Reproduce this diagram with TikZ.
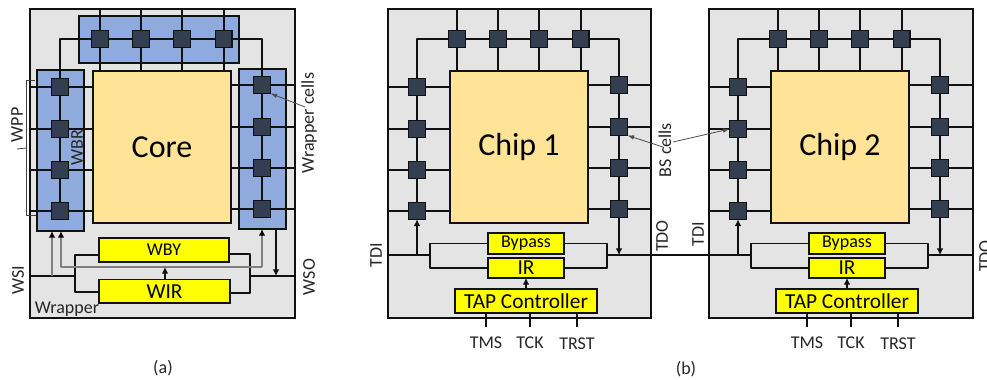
\documentclass[tikz,border=0pt]{standalone}
\usepackage{fontspec}
\setmainfont{Carlito}
\usetikzlibrary{arrows.meta}
\definecolor{wgray}{HTML}{E4E4E4}
\definecolor{wblue}{HTML}{8FAADC}
\definecolor{wcore}{HTML}{FFE498}
\definecolor{wcell}{HTML}{333F50}
\definecolor{wyel}{HTML}{FFFF00}
\definecolor{wline}{HTML}{111111}
\tikzset{
  x=0.75pt,y=-0.75pt,
  base/.style={draw=wline,line width=1.2pt,inner sep=0pt,outer sep=0pt},
  outerbox/.style={base,fill=wgray},
  panel/.style={base,fill=wblue},
  corebox/.style={base,fill=wcore,font=\fontsize{24}{24}\selectfont},
  yelbox/.style={base,fill=wyel},
  cellbox/.style={base,fill=wcell,minimum size=12.6pt},
  wire/.style={draw=wline,line width=1.2pt,line join=round},
  graywire/.style={draw=black!50,line width=1.2pt,line join=round,-{Latex[length=5pt,width=5pt,black]}},
  sig/.style={draw=wline,line width=0.8pt,-{Latex[length=5pt,width=5pt]}},
  callout/.style={draw=black!70,line width=0.6pt,-{Latex[length=5pt,width=3.5pt]}},
  lab/.style={inner sep=0pt,outer sep=0pt,text=black!85,font=\fontsize{13.5}{13.5}\selectfont},
  vlab/.style={lab,rotate=90},
}
% name, style, x1, y1, x2, y2, text
\newcommand\bx[7]{\node[#2,minimum width={((#5)-(#3))*0.75pt},minimum height={((#6)-(#4))*0.75pt}] (#1) at ({((#3)+(#5))/2},{((#4)+(#6))/2}) {#7};}
% prefix, outer box name, x shift, core label
\newcommand\chipcells[4]{%
  \bx{#1core}{corebox}{93+#3}{71}{231+#3}{223}{\raisebox{-3pt}{#4}}
  \foreach \n/\cx in {1/100,2/141,3/182,4/223.8}{\node[cellbox] (#1t\n) at (\cx+#3,39) {};}
  \foreach \n/\cy in {1/87,2/129,3/170,4/211}{\node[cellbox] (#1l\n) at (60+#3,\cy) {};}
  \foreach \n/\cy in {1/85,2/127,3/168,4/209}{\node[cellbox] (#1r\n) at (262+#3,\cy) {};}
  \foreach \n in {1,2,3,4}{
    \draw[wire] (#1t\n.north) -- (#1t\n.north |- #2.north);
    \draw[wire] (#1t\n.south) -- (#1t\n.south |- #1core.north);
    \draw[wire] (#1l\n.west) -- (#1l\n.west -| #2.west);
    \draw[wire] (#1l\n.east) -- (#1l\n.east -| #1core.west);
    \draw[wire] (#1r\n.east) -- (#1r\n.east -| #2.east);
    \draw[wire] (#1r\n.west) -- (#1r\n.west -| #1core.east);
  }
  \draw[wire] (#1t1) -- (#1t2);
  \draw[wire] (#1t2) -- (#1t3);
  \draw[wire] (#1t3) -- (#1t4);
  \draw[wire] (#1l1.north) |- (#1t1.west);
  \draw[wire] (#1t4.east) -| (#1r1.north);
  \draw[wire] (#1l1) -- (#1l2);
  \draw[wire] (#1l2) -- (#1l3);
  \draw[wire] (#1l3) -- (#1l4);
  \draw[wire] (#1r1) -- (#1r2);
  \draw[wire] (#1r2) -- (#1r3);
  \draw[wire] (#1r3) -- (#1r4);
}
% prefix, x shift
\newcommand\taplogic[2]{%
  \bx{#1byp}{yelbox}{488+#2}{233}{564+#2}{254}{\fontsize{13.5}{13.5}\selectfont Bypass}
  \bx{#1ir}{yelbox}{488+#2}{258}{564+#2}{278}{\fontsize{16}{16}\selectfont IR}
  \bx{#1tap}{yelbox}{455+#2}{289}{597+#2}{313}{\fontsize{16}{16}\selectfont TAP Controller}
  \coordinate (#1jl) at (430+#2,255);
  \coordinate (#1jr) at (607+#2,255);
  \draw[wire] (#1byp.west) -| (#1jl) |- (#1ir.west);
  \draw[wire] (#1byp.east) -| (#1jr) |- (#1ir.east);
  \draw[sig] (#1tap.north -| #1ir.south) -- (#1ir.south);
  \node[lab] (#1tms) at (486+#2,343) {TMS};
  \node[lab] (#1tck) at (530+#2,343) {TCK};
  \node[lab] (#1trst) at (577+#2,344) {TRST};
  \coordinate (#1tmsi) at (486+#2,327);
  \coordinate (#1tcki) at (530+#2,327);
  \coordinate (#1trsti) at (577+#2,327);
  \draw[wire] (#1tmsi) -- (#1tmsi |- #1tap.south);
  \draw[wire] (#1tcki) -- (#1tcki |- #1tap.south);
  \draw[wire] (#1trsti) -- (#1trsti |- #1tap.south);
}
\begin{document}
\begin{tikzpicture}
\useasboundingbox (0,0) rectangle (987,379);
% ---------- (a) ----------
\bx{wrap}{outerbox}{30}{9}{295}{318}{}
\bx{ptop}{panel}{79}{16}{239}{63}{}
\bx{pleft}{panel}{37}{70}{84}{231}{}
\bx{pright}{panel}{239}{69}{286}{229}{}
\chipcells{a}{wrap}{0}{Core}
\bx{wby}{yelbox}{99}{238}{229}{262}{\fontsize{13.5}{13.5}\selectfont WBY}
\bx{wir}{yelbox}{99}{279.5}{230}{303}{\fontsize{16}{16}\selectfont WIR}
\coordinate (wsiin) at (30,276);
\coordinate (wsoout) at (295,276);
\coordinate (ajl) at (75,276);
\coordinate (ajr) at (250,276);
\coordinate (wbyl) at (99,255);
\coordinate (wbyr) at (229,254);
\coordinate (wirl) at (99,292);
\coordinate (wirr) at (230,293);
\draw[wire] (wsiin) -- (ajl);
\draw[wire] (ajr) -- (wsoout);
\draw[wire] (wbyl) -| (ajl) |- (wirl);
\draw[wire] (wbyr) -| (ajr) |- (wirr);
\coordinate (g1) at (52,276);
\draw[graywire] (g1) -- (g1 |- pleft.south);
\coordinate (g2) at (61,267);
\coordinate (g3) at (262,267);
\draw[graywire] (g3) -- (g2) -- (g2 |- pleft.south);
\draw[graywire] (g3) -- (g3 |- pright.south);
\coordinate (wirup) at (165,267);
\draw[sig] (wirup |- wir.north) -- (wirup);
\coordinate (sout) at (276,276);
\draw[sig] (sout |- pright.south) -- (sout);
\coordinate (bra) at (35,80);
\coordinate (brb) at (36,215);
\coordinate (brm) at (26,148);
\coordinate (brt) at (17,149);
\draw[draw=black!75,line width=0.6pt] (bra) -- (26,80) -- (26,215) -- (brb);
\draw[draw=black!75,line width=0.6pt] (brm) -- (brt);
\node[vlab] (wpp) at (17,125) {WPP};
\node[vlab] (wbr) at (77,148) {WBR};
\node[vlab] (wcl) at (309,123) {Wrapper cells};
\coordinate (wcs) at (305,107);
\draw[callout] (wcs) -- (ar1.south east);
\node[vlab] (wsi) at (18,280) {WSI};
\node[vlab] (wso) at (309,277) {WSO};
\node[lab] (wrl) at (67,309) {Wrapper};
\node[lab] (capa) at (163,368) {(a)};
% ---------- (b) ----------
\bx{c1box}{outerbox}{388}{9}{651}{318}{}
\bx{c2box}{outerbox}{709}{9}{973}{318}{}
\chipcells{b}{c1box}{357}{Chip 1}
\chipcells{c}{c2box}{678}{Chip 2}
\taplogic{b}{0}
\taplogic{c}{321}
\coordinate (btdi) at (388,255);
\coordinate (ctdo) at (973,255);
\draw[wire] (btdi) -- (bjl);
\draw[wire] (bjr) -- (cjl);
\draw[wire] (cjr) -- (ctdo);
\coordinate (bup) at (417,255);
\coordinate (cup) at (738,255);
\coordinate (bdn) at (619,255);
\coordinate (cdn) at (940,255);
\draw[sig] (bup) -- (bl4.south);
\draw[sig] (cup) -- (cl4.south);
\draw[sig] (br4.south) -- (bdn);
\draw[sig] (cr4.south) -- (cdn);
\node[vlab] (tdi1) at (376,255) {TDI};
\node[vlab] (tdo1) at (662,236) {TDO};
\node[vlab] (tdi2) at (698,234) {TDI};
\node[vlab] (tdo2) at (985,256) {TDO};
\node[vlab] (bsl) at (665,150) {BS cells};
\coordinate (bsa) at (663,147);
\coordinate (bsb) at (673,142);
\draw[callout] (bsa) -- (br2.south east);
\draw[callout] (bsb) -- (cl2.west);
\node[lab] (capb) at (686,369) {(b)};
\end{tikzpicture}
\end{document}
